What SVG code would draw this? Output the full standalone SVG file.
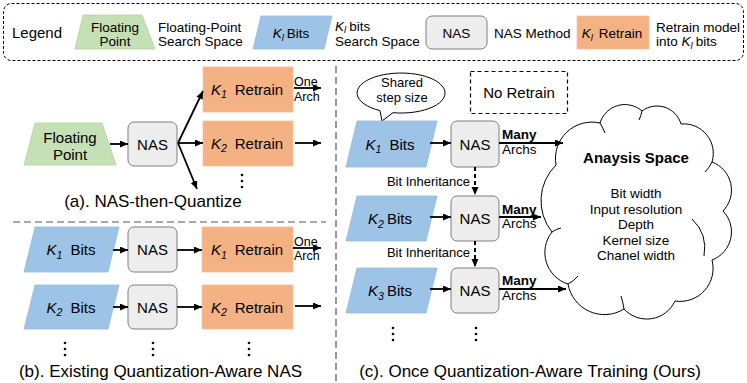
<svg xmlns="http://www.w3.org/2000/svg" width="747" height="383" viewBox="0 0 747 383">
<defs>
<marker id="ah" markerWidth="9" markerHeight="8" refX="8" refY="3.5" orient="auto" markerUnits="userSpaceOnUse"><path d="M0,0 L8,3.5 L0,7 Z" fill="#000"/></marker>
<style>
text{font-family:"Liberation Sans",Arial,sans-serif;fill:#000}
.lg{font-size:13.5px}
.nd{font-size:15px}
.cap{font-size:17px}
.sm{font-size:12.5px}
.ma{font-size:13.5px}
.b{font-weight:bold}
.it{font-style:italic}
.mid{text-anchor:middle}
.end{text-anchor:end}
.fp{fill:#C5E0B4;stroke:#B4D69C;stroke-width:0.8}
.kb{fill:#9DC3E6;stroke:#93BBE0;stroke-width:0.8}
.rt{fill:#F4B183;stroke:#F7C3A0;stroke-width:0.8}
.nas{fill:#EDEDED;stroke:#7F7F7F;stroke-width:1}
.ar{stroke:#000;stroke-width:1.8;fill:none;marker-end:url(#ah)}
.da{stroke:#000;stroke-width:2;fill:none;stroke-dasharray:4 3;marker-end:url(#ah)}
.sep{stroke:#555;stroke-width:1.2;fill:none;stroke-dasharray:7 4}
.dot{fill:#000}
.cl{fill:none;stroke:#000;stroke-width:1}
</style>
</defs>

<g id="legend">
<rect x="3.5" y="3.5" width="740" height="57" rx="8" fill="none" stroke="#000" stroke-width="1" stroke-dasharray="3 2"/>
<text x="12" y="37.5" style="font-size:15px">Legend</text>
<polygon class="fp" points="83,15 142,15 155,49 75,49"/>
<text class="lg mid" x="115" y="31.5">Floating</text>
<text class="lg mid" x="115" y="45.5">Point</text>
<text class="lg" x="158" y="31.5">Floating-Point</text>
<text class="lg" x="158" y="45.5">Search Space</text>
<polygon class="kb" points="261,16 332,16 324,49 253,49"/>
<text class="lg mid" x="291" y="37.5"><tspan class="it">K</tspan><tspan class="it" font-size="9.5" dy="3">l</tspan><tspan dy="-3" dx="3">Bits</tspan></text>
<text class="lg" x="335" y="30.5"><tspan class="it">K</tspan><tspan class="it" font-size="9.5" dy="2.5">l</tspan><tspan dy="-2.5" dx="3">bits</tspan></text>
<text class="lg" x="335" y="46">Search Space</text>
<rect class="nas" x="426" y="16" width="61" height="33" rx="6"/>
<text class="lg mid" x="456.5" y="37.5">NAS</text>
<text class="lg" x="494" y="37.5">NAS Method</text>
<rect class="rt" x="577" y="16" width="72" height="33"/>
<text class="lg mid" x="612" y="37.5"><tspan class="it">K</tspan><tspan class="it" font-size="9.5" dy="3">l</tspan><tspan dy="-3" dx="6">Retrain</tspan></text>
<text class="lg" x="656" y="31.5">Retrain model</text>
<text class="lg" x="656" y="45.5">into <tspan class="it">K</tspan><tspan class="it" font-size="9.5" dy="3">l</tspan><tspan dy="-3" dx="3">bits</tspan></text>
</g>

<g id="separators">
<line class="sep" x1="13" y1="222" x2="326" y2="222"/>
<line class="sep" x1="336" y1="66" x2="336" y2="381"/>
</g>

<!-- (a) -->
<g id="a-float">
<polygon class="fp" points="35,123 102,123 116,165 24,165"/>
<text class="nd mid" x="70" y="143">Floating</text>
<text class="nd mid" x="70" y="159.5">Point</text>
</g>
<g id="a-nas">
<rect class="nas" x="128" y="122" width="49" height="44" rx="6"/>
<text class="nd mid" x="152.5" y="149.5">NAS</text>
</g>
<g id="a-k1">
<rect class="rt" x="203" y="67" width="90" height="45"/>
<text class="nd mid" x="247" y="94.5"><tspan class="it">K</tspan><tspan class="it" font-size="10.5" dy="3.5">1</tspan><tspan dy="-3.5" dx="8">Retrain</tspan></text>
</g>
<g id="a-k2">
<rect class="rt" x="203" y="121" width="90" height="45"/>
<text class="nd mid" x="247" y="148.5"><tspan class="it">K</tspan><tspan class="it" font-size="10.5" dy="3.5">2</tspan><tspan dy="-3.5" dx="8">Retrain</tspan></text>
</g>
<g id="a-dots">
<circle class="dot" cx="242" cy="175" r="1.3"/><circle class="dot" cx="242" cy="181" r="1.3"/><circle class="dot" cx="242" cy="187" r="1.3"/>
</g>
<text class="cap mid" x="153" y="207">(a). NAS-then-Quantize</text>

<!-- (b) -->
<g id="b-k1bits">
<polygon class="kb" points="35,227 119,227 108,272 24,272"/>
<text class="nd mid" x="71" y="255"><tspan class="it">K</tspan><tspan class="it" font-size="10.5" dy="3.5">1</tspan><tspan dy="-3.5" dx="8">Bits</tspan></text>
</g>
<g id="b-nas1">
<rect class="nas" x="128" y="227" width="49" height="45" rx="6"/>
<text class="nd mid" x="152.5" y="255">NAS</text>
</g>
<g id="b-k1">
<rect class="rt" x="202" y="227" width="91" height="45"/>
<text class="nd mid" x="247" y="255"><tspan class="it">K</tspan><tspan class="it" font-size="10.5" dy="3.5">1</tspan><tspan dy="-3.5" dx="8">Retrain</tspan></text>
</g>
<g id="b-k2bits">
<polygon class="kb" points="35,285 119,285 108,329 24,329"/>
<text class="nd mid" x="71" y="312.5"><tspan class="it">K</tspan><tspan class="it" font-size="10.5" dy="3.5">2</tspan><tspan dy="-3.5" dx="8">Bits</tspan></text>
</g>
<g id="b-nas2">
<rect class="nas" x="128" y="285" width="49" height="44" rx="6"/>
<text class="nd mid" x="152.5" y="312.5">NAS</text>
</g>
<g id="b-k2">
<rect class="rt" x="202" y="285" width="91" height="44"/>
<text class="nd mid" x="247" y="312.5"><tspan class="it">K</tspan><tspan class="it" font-size="10.5" dy="3.5">2</tspan><tspan dy="-3.5" dx="8">Retrain</tspan></text>
</g>
<g id="b-dots">
<circle class="dot" cx="65" cy="343" r="1.3"/><circle class="dot" cx="65" cy="349" r="1.3"/><circle class="dot" cx="65" cy="355" r="1.3"/>
<circle class="dot" cx="153" cy="343" r="1.3"/><circle class="dot" cx="153" cy="349" r="1.3"/><circle class="dot" cx="153" cy="355" r="1.3"/>
<circle class="dot" cx="249" cy="343" r="1.3"/><circle class="dot" cx="249" cy="349" r="1.3"/><circle class="dot" cx="249" cy="355" r="1.3"/>
</g>
<text class="cap mid" x="160.5" y="377">(b). Existing Quantization-Aware NAS</text>

<!-- (c) -->
<g id="c-bubble">
<path d="M393,112.7 A44,20 0 1 0 380,110.6 L382,121 Z" fill="#fff" stroke="#000" stroke-width="1"/>
<text class="mid" x="402" y="87" style="font-size:13px">Shared</text>
<text class="mid" x="402" y="102" style="font-size:13px">step size</text>
</g>
<g id="c-noretrain">
<rect x="470.5" y="71.5" width="97" height="42" fill="none" stroke="#000" stroke-width="1.2" stroke-dasharray="4 3"/>
<text class="nd mid" x="519" y="98">No Retrain</text>
</g>
<g id="c-k1bits">
<polygon class="kb" points="357,121 437,121 426,167 346,167"/>
<text class="nd mid" x="390" y="149.5"><tspan class="it">K</tspan><tspan class="it" font-size="10.5" dy="3.5">1</tspan><tspan dy="-3.5" dx="8">Bits</tspan></text>
</g>
<g id="c-nas1">
<rect class="nas" x="451" y="121" width="48" height="46" rx="6"/>
<text class="nd mid" x="475" y="149.5">NAS</text>
</g>
<g id="c-k2bits">
<polygon class="kb" points="357,196 437,196 426,241 346,241"/>
<text class="nd mid" x="390" y="224"><tspan class="it">K</tspan><tspan class="it" font-size="10.5" dy="3.5">2</tspan><tspan dy="-3.5" dx="3">Bits</tspan></text>
</g>
<g id="c-nas2">
<rect class="nas" x="451" y="196" width="48" height="45" rx="6"/>
<text class="nd mid" x="475" y="224">NAS</text>
</g>
<g id="c-k3bits">
<polygon class="kb" points="357,268 437,268 426,313 346,313"/>
<text class="nd mid" x="390" y="296"><tspan class="it">K</tspan><tspan class="it" font-size="10.5" dy="3.5">3</tspan><tspan dy="-3.5" dx="3">Bits</tspan></text>
</g>
<g id="c-nas3">
<rect class="nas" x="451" y="268" width="48" height="45" rx="6"/>
<text class="nd mid" x="475" y="296">NAS</text>
</g>
<g id="c-cloud">
<path d="M556,165 A36.5,36.5 0 0 1 600,123 A26,26 0 0 1 642,111 A25,25 0 0 1 681,124 A29.5,29.5 0 0 1 712,162 A30,30 0 0 1 723,211 A30,30 0 0 1 712,260 A33,33 0 0 1 675,301 A31,31 0 0 1 624,309 A37,37 0 0 1 568,284 A33,33 0 0 1 552,232 A50,50 0 0 1 556,165 Z" fill="#fff" stroke="#000" stroke-width="1"/>
<path class="cl" d="M692,219 Q708,234 704,256"/>
<path class="cl" d="M600,123 Q603,128 605,133"/>
<path class="cl" d="M642,111 Q641,116 639,120"/>
<path class="cl" d="M712,162 Q709,168 705,172"/>
<path class="cl" d="M624,309 Q623,302 621,296"/>
<path class="cl" d="M568,284 Q574,281 578,276"/>
<path class="cl" d="M552,232 Q556,229 561,228"/>
<text class="b mid" x="636" y="163" style="font-size:15px">Anaysis Space</text>
<text class="lg mid" x="636" y="198">Bit width</text>
<text class="lg mid" x="636" y="213.5">Input resolution</text>
<text class="lg mid" x="636" y="229">Depth</text>
<text class="lg mid" x="636" y="244.5">Kernel size</text>
<text class="lg mid" x="636" y="260">Chanel width</text>
</g>
<g id="c-dots">
<circle class="dot" cx="393" cy="328" r="1.3"/><circle class="dot" cx="393" cy="334" r="1.3"/><circle class="dot" cx="393" cy="340" r="1.3"/>
<circle class="dot" cx="476" cy="328" r="1.3"/><circle class="dot" cx="476" cy="334" r="1.3"/><circle class="dot" cx="476" cy="340" r="1.3"/>
</g>
<text class="cap mid" x="530" y="377">(c). Once Quantization-Aware Training (Ours)</text>

<g id="connectors">
<line class="ar" x1="110" y1="144" x2="128" y2="144"/>
<line class="ar" x1="178" y1="143" x2="203" y2="91"/>
<line class="ar" x1="178" y1="143" x2="203" y2="143"/>
<line class="ar" x1="178" y1="143" x2="197" y2="189"/>
<line class="ar" x1="294" y1="88" x2="321" y2="88"/>
<line class="ar" x1="295" y1="143" x2="321" y2="143"/>
<line class="ar" x1="113" y1="250" x2="128" y2="250"/>
<line class="ar" x1="177" y1="250" x2="202" y2="250"/>
<line class="ar" x1="293" y1="248" x2="321" y2="248"/>
<line class="ar" x1="113" y1="307" x2="128" y2="307"/>
<line class="ar" x1="177" y1="307" x2="202" y2="307"/>
<line class="ar" x1="295" y1="306" x2="321" y2="306"/>
<line class="ar" x1="430" y1="143" x2="451" y2="143"/>
<line class="ar" x1="430" y1="217" x2="451" y2="217"/>
<line class="ar" x1="430" y1="289" x2="451" y2="289"/>
<line class="ar" x1="499" y1="143" x2="563" y2="143"/>
<line class="ar" x1="499" y1="217" x2="541" y2="217"/>
<line class="ar" x1="499" y1="289" x2="566" y2="289"/>
<line class="da" x1="475" y1="167" x2="475" y2="195"/>
<line class="da" x1="475" y1="241" x2="475" y2="267"/>
<text class="sm" x="294" y="86">One</text>
<text class="sm" x="294" y="100.5">Arch</text>
<text class="sm" x="294" y="245.5">One</text>
<text class="sm" x="294" y="259.5">Arch</text>
<text class="ma b" x="502" y="139">Many</text>
<text class="ma" x="502" y="153.5">Archs</text>
<text class="ma b" x="502" y="213.5">Many</text>
<text class="ma" x="502" y="228">Archs</text>
<text class="ma b" x="502" y="285">Many</text>
<text class="ma" x="502" y="299.5">Archs</text>
<text class="end" x="470" y="186" style="font-size:13px">Bit Inheritance</text>
<text class="end" x="470" y="257" style="font-size:13px">Bit Inheritance</text>
</g>
</svg>
